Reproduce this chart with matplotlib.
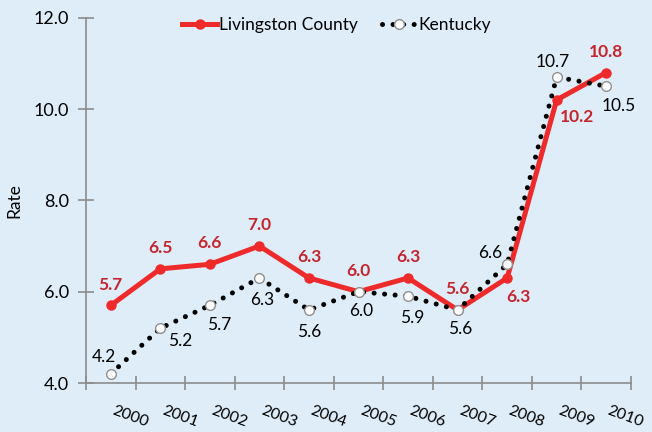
import matplotlib
matplotlib.use('Agg')
import matplotlib.pyplot as plt
import matplotlib.transforms as mtransforms
from matplotlib.lines import Line2D

plt.rcParams['font.family'] = ['Lato', 'DejaVu Sans']

years = ['2000', '2001', '2002', '2003', '2004', '2005', '2006', '2007', '2008', '2009', '2010']
livingston = [5.7, 6.5, 6.6, 7.0, 6.3, 6.0, 6.3, 5.6, 6.3, 10.2, 10.8]
kentucky = [4.2, 5.2, 5.7, 6.3, 5.6, 6.0, 5.9, 5.6, 6.6, 10.7, 10.5]

# label offsets in points (dx, dy)
liv_off = [(0, 15)] * 8 + [(8, -14), (15, -12), (0, 15)]
ky_off = [(-5, 12), (14, -9), (7, -14), (2, -16), (0, -16), (2, -14), (3, -16), (2, -14),
          (-12, 8), (-3, 11), (9, -14)]

bg = '#DFEDF8'
red = '#EE2A2A'
red_txt = '#C4262E'
gray = '#8C8C8C'

fig = plt.figure(figsize=(6.52, 4.32), dpi=100, facecolor=bg)
ax = fig.add_axes([0.1319, 0.1134, 0.8359, 0.8456])
ax.set_facecolor(bg)

x = list(range(len(years)))

ax.plot(x, livingston, color=red, lw=3.6, marker='o', markersize=6.5,
        markerfacecolor=red, markeredgecolor=red, zorder=3)
ax.plot(x, kentucky, color='black', lw=3.6, linestyle=(0, (0.01, 2.1)),
        dash_capstyle='round', zorder=4)
ax.plot(x, kentucky, linestyle='none', marker='o', markersize=7,
        markerfacecolor='white', markeredgecolor='#909090', markeredgewidth=1.0, zorder=5)

for i, v in enumerate(livingston):
    ax.annotate('%.1f' % v, (i, v), xytext=liv_off[i], textcoords='offset points',
                ha='center', va='center', fontsize=12.5, fontweight='bold', color=red_txt, zorder=6)
for i, v in enumerate(kentucky):
    ax.annotate('%.1f' % v, (i, v), xytext=ky_off[i], textcoords='offset points',
                ha='center', va='center', fontsize=12.5, color='black', zorder=6)

ax.set_xlim(-0.5, len(years) - 0.5)
ax.set_ylim(4.0, 12.0)
ax.set_yticks([4, 6, 8, 10, 12])
ax.set_yticklabels(['%.1f' % t for t in [4, 6, 8, 10, 12]], fontsize=13)
ax.set_xticks([i - 0.5 for i in range(len(years) + 1)])
ax.set_xticklabels([])
ax.set_xticks(x, minor=True)
ax.set_xticklabels(years, minor=True, fontsize=11.5, rotation=-20, ha='left',
                   rotation_mode='anchor')
ax.tick_params(axis='x', which='minor', length=0, pad=15)
ax.tick_params(axis='x', which='major', direction='inout', length=10, color=gray, width=1.2)
ax.tick_params(axis='y', direction='inout', length=12, color=gray, width=1.2, pad=6)
shift = mtransforms.ScaledTranslation(3 / 72, 0, fig.dpi_scale_trans)
for lab in ax.get_xticklabels(minor=True):
    lab.set_transform(lab.get_transform() + shift)

for s in ['top', 'right']:
    ax.spines[s].set_visible(False)
for s in ['left', 'bottom']:
    ax.spines[s].set_color(gray)
    ax.spines[s].set_linewidth(1.2)

ax.set_ylabel('Rate', fontsize=12.5, labelpad=8)

handles = [
    Line2D([], [], color=red, lw=3.6, marker='o', markersize=6.5),
    Line2D([], [], color='black', lw=3.6, linestyle=(0, (0.01, 2.1)), dash_capstyle='round',
           marker='o', markersize=7, markerfacecolor='white', markeredgecolor='#909090'),
]
ax.legend(handles, ['Livingston County', 'Kentucky'], loc='upper center',
          bbox_to_anchor=(0.46, 1.045), ncol=2, frameon=False, fontsize=12.5,
          handlelength=2.0, handletextpad=0.1, columnspacing=1.4)

fig.savefig('out.png', dpi=100, facecolor=bg)
